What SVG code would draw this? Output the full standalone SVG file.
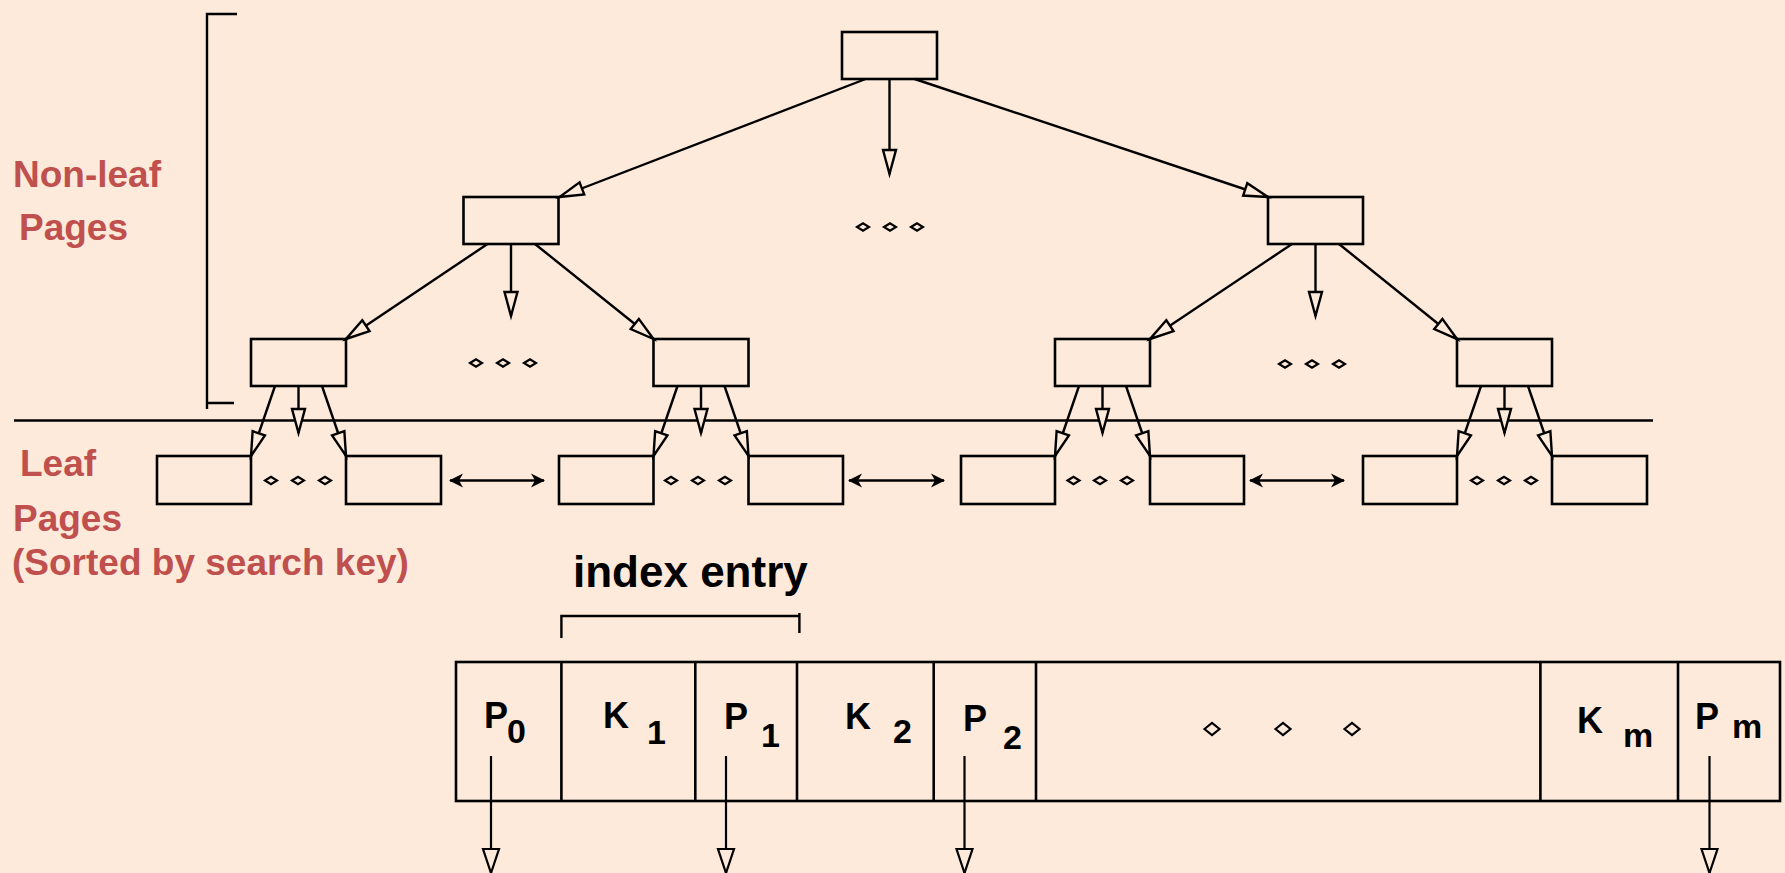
<svg xmlns="http://www.w3.org/2000/svg" width="1785" height="873" viewBox="0 0 1785 873">
<style>
.bg{fill:#FDEADB}
.box{fill:none;stroke:#000;stroke-width:2.6}
.ln{fill:none;stroke:#000;stroke-width:2.4}
.arr{fill:none;stroke:#000;stroke-width:2.4;marker-end:url(#hollow)}
.parr{fill:none;stroke:#000;stroke-width:2.2;marker-end:url(#hollowB)}
.dbl{fill:none;stroke:#000;stroke-width:2.6;marker-start:url(#barb);marker-end:url(#barb)}
.dot{fill:none;stroke:#000;stroke-width:2.2}
.red{font-family:"Liberation Sans",Arial,sans-serif;font-weight:bold;font-size:37px;fill:#C0504D}
.blk{font-family:"Liberation Sans",Arial,sans-serif;font-weight:bold;fill:#000}
</style>
<defs>
<marker id="hollow" markerUnits="userSpaceOnUse" orient="auto" refX="0" refY="0" markerWidth="40" markerHeight="40" viewBox="-30 -15 40 30" overflow="visible">
<path d="M0,0 L-24,-6.5 L-24,6.5 Z" fill="#FDEADB" stroke="#000" stroke-width="2.4" stroke-linejoin="miter"/>
</marker>
<marker id="hollowB" markerUnits="userSpaceOnUse" orient="auto" refX="0" refY="0" markerWidth="40" markerHeight="40" viewBox="-30 -15 40 30" overflow="visible">
<path d="M0,0 L-24,-8 L-24,8 Z" fill="#FDEADB" stroke="#000" stroke-width="2.2"/>
</marker>
<marker id="barb" markerUnits="userSpaceOnUse" orient="auto-start-reverse" refX="0" refY="0" markerWidth="30" markerHeight="30" viewBox="-20 -10 30 20" overflow="visible">
<path d="M1,0 L-13,-7 L-9,0 L-13,7 Z" fill="#000"/>
</marker>
<path id="dm" d="M-6,0 L0,-3.8 L6,0 L0,3.8 Z"/>
<path id="dmB" d="M-7.5,0 L0,-6 L7.5,0 L0,6 Z"/>
</defs>
<rect class="bg" x="0" y="0" width="1785" height="873"/>

<g id="labels">
<text class="red" x="13" y="187">Non-leaf</text>
<text class="red" x="19" y="240">Pages</text>
<text class="red" x="20" y="476">Leaf</text>
<text class="red" x="13" y="531">Pages</text>
<text class="red" x="12" y="575">(Sorted by search key)</text>
<text class="blk" x="573" y="587" font-size="44">index entry</text>
</g>

<g id="bracket">
<path class="ln" d="M237,14 L207,14 L207,409 M207,403 L234,403" stroke-width="3"/>
</g>
<g id="divider">
<line class="ln" x1="14" y1="420.5" x2="1653" y2="420.5" stroke-width="3"/>
</g>

<g id="root"><rect class="box" x="842" y="32" width="95" height="47"/></g>
<g id="inner-left"><rect class="box" x="463.5" y="197" width="95" height="47"/></g>
<g id="inner-right"><rect class="box" x="1268" y="197" width="95" height="47"/></g>
<g id="inner2-1"><rect class="box" x="251" y="339" width="95" height="47"/></g>
<g id="inner2-2"><rect class="box" x="653.5" y="339" width="95" height="47"/></g>
<g id="inner2-3"><rect class="box" x="1055" y="339" width="95" height="47"/></g>
<g id="inner2-4"><rect class="box" x="1457" y="339" width="95" height="47"/></g>

<g id="leaf-1"><rect class="box" x="157" y="456" width="94" height="48"/></g>
<g id="leaf-2"><rect class="box" x="346" y="456" width="95" height="48"/></g>
<g id="leaf-3"><rect class="box" x="559" y="456" width="94.5" height="48"/></g>
<g id="leaf-4"><rect class="box" x="748.5" y="456" width="94.5" height="48"/></g>
<g id="leaf-5"><rect class="box" x="961" y="456" width="94" height="48"/></g>
<g id="leaf-6"><rect class="box" x="1150" y="456" width="94" height="48"/></g>
<g id="leaf-7"><rect class="box" x="1363" y="456" width="94" height="48"/></g>
<g id="leaf-8"><rect class="box" x="1552" y="456" width="95" height="48"/></g>

<g id="ellipses">
<use href="#dm" class="dot" x="863" y="227"/><use href="#dm" class="dot" x="890" y="227"/><use href="#dm" class="dot" x="917" y="227"/>
<use href="#dm" class="dot" x="476" y="363"/><use href="#dm" class="dot" x="503" y="363"/><use href="#dm" class="dot" x="530" y="363"/>
<use href="#dm" class="dot" x="1285" y="364"/><use href="#dm" class="dot" x="1312" y="364"/><use href="#dm" class="dot" x="1339" y="364"/>
<use href="#dm" class="dot" x="271" y="480.5"/><use href="#dm" class="dot" x="298" y="480.5"/><use href="#dm" class="dot" x="325" y="480.5"/>
<use href="#dm" class="dot" x="671" y="480.5"/><use href="#dm" class="dot" x="698" y="480.5"/><use href="#dm" class="dot" x="725" y="480.5"/>
<use href="#dm" class="dot" x="1073.5" y="480.5"/><use href="#dm" class="dot" x="1100" y="480.5"/><use href="#dm" class="dot" x="1127" y="480.5"/>
<use href="#dm" class="dot" x="1477" y="480.5"/><use href="#dm" class="dot" x="1504" y="480.5"/><use href="#dm" class="dot" x="1531" y="480.5"/>
</g>

<g id="connectors">
<path class="arr" d="M865.6,79 L559.5,197"/>
<path class="arr" d="M889.5,79 L889.5,174"/>
<path class="arr" d="M914.7,79 L1268,197"/>
<path class="arr" d="M487.5,244 L346,339"/>
<path class="arr" d="M511,244 L511,316"/>
<path class="arr" d="M535,244 L653.5,339"/>
<path class="arr" d="M1292,244 L1150,339"/>
<path class="arr" d="M1315.5,244 L1315.5,316"/>
<path class="arr" d="M1339,244 L1457,339"/>
<path class="arr" d="M275,386 L251,456"/>
<path class="arr" d="M298.5,386 L298.5,433"/>
<path class="arr" d="M322,386 L346,456"/>
<path class="arr" d="M677.5,386 L653.5,456"/>
<path class="arr" d="M701,386 L701,433"/>
<path class="arr" d="M724.5,386 L748.5,456"/>
<path class="arr" d="M1079,386 L1055,456"/>
<path class="arr" d="M1102.5,386 L1102.5,433"/>
<path class="arr" d="M1126,386 L1150,456"/>
<path class="arr" d="M1481,386 L1457,456"/>
<path class="arr" d="M1504.5,386 L1504.5,433"/>
<path class="arr" d="M1528,386 L1552,456"/>
<path class="dbl" d="M450,480.5 L544,480.5"/>
<path class="dbl" d="M849,480.5 L944,480.5"/>
<path class="dbl" d="M1250,480.5 L1344,480.5"/>
<path class="parr" d="M491,756 L491,873"/>
<path class="parr" d="M726,756 L726,873"/>
<path class="parr" d="M964.5,756 L964.5,873"/>
<path class="parr" d="M1709.5,756 L1709.5,873"/>
</g>

<g id="index-entry-bracket">
<path class="ln" d="M561.4,638 L561.4,616 L799.4,616 M799.4,613 L799.4,633"/>
</g>

<g id="index-record">
<rect class="box" x="456" y="662" width="1324" height="139"/>
<path class="box" d="M561.4,662 V801 M695.3,662 V801 M797,662 V801 M933.7,662 V801 M1036,662 V801 M1540.4,662 V801 M1678,662 V801"/>
<text class="blk" font-size="36" x="484" y="727.5">P</text>
<text class="blk" font-size="34" x="507" y="743">0</text>
<text class="blk" font-size="36" x="603" y="727.5">K</text>
<text class="blk" font-size="34" x="647" y="744">1</text>
<text class="blk" font-size="36" x="724" y="729">P</text>
<text class="blk" font-size="34" x="761" y="747">1</text>
<text class="blk" font-size="36" x="845" y="729">K</text>
<text class="blk" font-size="34" x="893" y="743">2</text>
<text class="blk" font-size="36" x="963" y="731">P</text>
<text class="blk" font-size="34" x="1003" y="749">2</text>
<text class="blk" font-size="36" x="1577" y="733">K</text>
<text class="blk" font-size="34" x="1623" y="747">m</text>
<text class="blk" font-size="36" x="1695" y="729">P</text>
<text class="blk" font-size="34" x="1732" y="738">m</text>
<use href="#dmB" class="dot" x="1212" y="729"/><use href="#dmB" class="dot" x="1283" y="729"/><use href="#dmB" class="dot" x="1352" y="729"/>
</g>
</svg>
